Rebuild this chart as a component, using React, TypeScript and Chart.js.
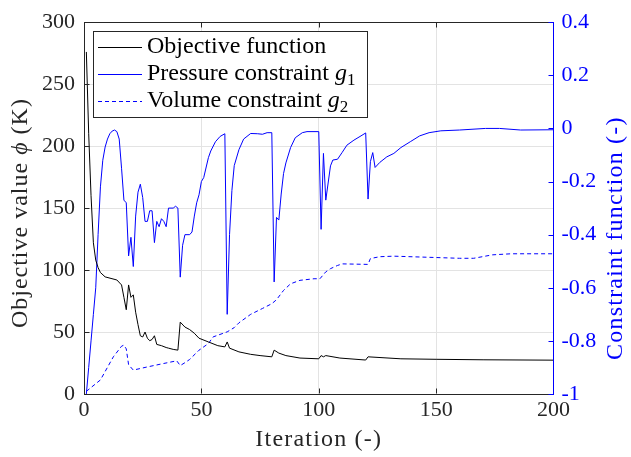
import React, { useEffect, useRef } from "react";
import { Chart, registerables } from "chart.js";

Chart.register(...registerables);

// ---- data ----
const objIter = [1, 2, 3, 4, 5, 6, 7, 9, 14, 16, 17, 18, 19, 20, 21, 22, 23, 24, 25, 26, 27, 28, 29, 30, 31, 33, 35, 36, 38, 40, 41, 43, 45, 47, 49, 53, 57, 60, 61, 62, 66, 71, 75, 80, 81, 83, 86, 92, 100, 101, 102, 103, 109, 120, 121, 135, 150, 170, 200];
const objVal = [276, 210, 160, 122, 108, 102, 98, 94.5, 92, 88, 78, 68, 88, 78, 80, 66, 56, 47, 46, 50, 45, 43, 44, 47, 40, 39, 37.5, 37, 36, 35.4, 58, 54, 52, 49, 45, 42, 39, 38, 42, 37, 34, 32, 31, 30, 35.4, 33, 31, 29, 28.4, 31, 30, 31, 29, 27.4, 30, 28.4, 28, 27.6, 27.3];

const presIter = [1, 2, 3, 4, 5, 6, 7, 8, 9, 10, 11, 12, 13, 14, 15, 16, 17, 18, 19, 20, 21, 22, 23, 24, 25, 26, 27, 28, 29, 30, 31, 32, 33, 34, 35, 36, 38, 39, 40, 41, 42, 43, 45, 46, 47, 48, 49, 50, 51, 53, 54, 56, 58, 60, 61, 62, 63, 64, 66, 68, 71, 74, 76, 78, 80, 81, 82, 83, 84, 85, 86, 88, 90, 93, 95, 100, 101, 102, 103, 105, 106, 108, 110, 112, 115, 118, 120, 121, 122, 123, 124, 126, 129, 132, 135, 139, 143, 147, 152, 160, 171, 177, 186, 200];
const presVal = [-1, -0.9, -0.8, -0.7, -0.6, -0.4, -0.22, -0.12, -0.07, -0.04, -0.02, -0.01, -0.006, -0.012, -0.04, -0.15, -0.27, -0.28, -0.48, -0.41, -0.52, -0.33, -0.24, -0.21, -0.26, -0.35, -0.35, -0.31, -0.31, -0.43, -0.35, -0.37, -0.34, -0.35, -0.37, -0.3, -0.3, -0.293, -0.3, -0.56, -0.44, -0.4, -0.4, -0.39, -0.33, -0.28, -0.25, -0.2, -0.185, -0.11, -0.085, -0.05, -0.03, -0.02, -0.7, -0.4, -0.234, -0.14, -0.08, -0.04, -0.019, -0.02, -0.022, -0.016, -0.016, -0.578, -0.335, -0.345, -0.247, -0.17, -0.13, -0.072, -0.035, -0.016, -0.012, -0.012, -0.38, -0.094, -0.27, -0.141, -0.119, -0.116, -0.09, -0.063, -0.044, -0.028, -0.017, -0.266, -0.125, -0.091, -0.147, -0.128, -0.107, -0.094, -0.072, -0.05, -0.028, -0.016, -0.009, -0.006, 0, 0, -0.006, -0.005];

const volIter = [1, 7, 12.5, 16, 17, 18, 19, 21, 27, 34, 39.5, 41, 43, 45, 49, 53, 55, 61, 64, 66, 71, 76, 80, 82, 85, 88, 92, 98, 100.5, 103, 105, 108, 110, 121, 122, 126, 132, 146, 160, 166, 174, 182, 200];
const volVal = [-0.99, -0.947, -0.86, -0.82, -0.816, -0.83, -0.89, -0.91, -0.898, -0.885, -0.875, -0.893, -0.882, -0.87, -0.835, -0.81, -0.785, -0.766, -0.75, -0.732, -0.7, -0.678, -0.66, -0.645, -0.61, -0.585, -0.572, -0.566, -0.566, -0.54, -0.528, -0.516, -0.51, -0.512, -0.49, -0.483, -0.481, -0.485, -0.489, -0.489, -0.476, -0.472, -0.472];

const xTicks = [0, 50, 100, 150, 200];
const leftTicks = [0, 50, 100, 150, 200, 250, 300];
const rightTicks = [-1, -0.8, -0.6, -0.4, -0.2, 0, 0.2, 0.4];

const legendLabels = ["Objective function", "Pressure constraint ", "Volume constraint "];
const xTitle = "Iteration (-)";
const rightTitle = "Constraint function (-)";

// ---- styles ----
const FONT = "'Liberation Serif', serif";
const AXIS = "#262626";
const BLUE = "#0000ff";
const GRID = "#e3e3e3";

type Run = { t: string; italic?: boolean; sub?: boolean };

function drawRuns(ctx: any, runs: Run[], x: number, y: number, size: number, align: "left" | "center", spacing = 0) {
  const fontFor = (r: Run) => `${r.italic ? "italic " : ""}${r.sub ? Math.round(size * 0.7) : size}px ${FONT}`;
  ctx.letterSpacing = `${spacing}px`;
  let total = 0;
  for (const r of runs) {
    ctx.font = fontFor(r);
    total += ctx.measureText(r.t).width;
  }
  let cx = align === "center" ? x - total / 2 : x;
  ctx.textBaseline = "middle";
  ctx.textAlign = "left";
  for (const r of runs) {
    ctx.font = fontFor(r);
    ctx.fillText(r.t, cx, r.sub ? y + size * 0.28 : y);
    cx += ctx.measureText(r.t).width;
  }
  ctx.letterSpacing = "0px";
}

const decor = {
  id: "decor",
  afterDraw(chart: any) {
    const { ctx, chartArea: a, scales } = chart;
    const L = Math.round(a.left) + 0.5;
    const R = Math.round(a.right) - 0.5;
    const T = Math.round(a.top) + 0.5;
    const B = Math.round(a.bottom) - 0.5;
    ctx.save();
    ctx.lineWidth = 1;
    const seg = (x1: number, y1: number, x2: number, y2: number, c: string) => {
      ctx.strokeStyle = c;
      ctx.beginPath();
      ctx.moveTo(x1, y1);
      ctx.lineTo(x2, y2);
      ctx.stroke();
    };
    // top border
    seg(L - 0.5, T, R, T, AXIS);
    // x ticks (inward, bottom and top)
    for (const v of xTicks) {
      if (v === 200) continue;
      const px = Math.round(scales.x.getPixelForValue(v)) + 0.5;
      seg(px, B, px, B - 5, AXIS);
      seg(px, T, px, T + 5, AXIS);
    }
    for (const v of leftTicks) {
      const py = Math.round(scales.y.getPixelForValue(v)) + 0.5;
      seg(L, py, L + 5, py, AXIS);
    }
    for (const v of rightTicks) {
      const py = Math.round(scales.y2.getPixelForValue(v)) + 0.5;
      seg(R, py, R - 5, py, BLUE);
    }
    seg(R, T - 0.5, R, B + 0.5, BLUE);

    // axis titles
    const midY = (a.top + a.bottom) / 2;
    ctx.fillStyle = AXIS;
    ctx.save();
    ctx.translate(21, midY + 5);
    ctx.rotate(-Math.PI / 2);
    drawRuns(ctx, [{ t: "Objective value " }, { t: "ϕ", italic: true }, { t: " (K)" }], 0, 0, 24, "center", 1);
    ctx.restore();

    ctx.fillStyle = BLUE;
    ctx.save();
    ctx.translate(616, midY + 30);
    ctx.rotate(-Math.PI / 2);
    drawRuns(ctx, [{ t: rightTitle }], 0, 0, 24, "center", 1.2);
    ctx.restore();

    ctx.fillStyle = AXIS;
    drawRuns(ctx, [{ t: xTitle }], (a.left + a.right) / 2, 440, 24, "center", 1.2);

    // legend
    const bx = 93.5, by = 31.5, bw = 274, bh = 86;
    ctx.fillStyle = "#ffffff";
    ctx.fillRect(bx, by, bw, bh);
    ctx.strokeStyle = AXIS;
    ctx.strokeRect(bx, by, bw, bh);
    const rows = [47, 74, 101];
    const colors = ["#000000", BLUE, BLUE];
    const dashes = [[], [], [4, 3]];
    for (let i = 0; i < 3; i++) {
      ctx.strokeStyle = colors[i];
      ctx.setLineDash(dashes[i]);
      ctx.beginPath();
      ctx.moveTo(98, rows[i] + 0.5);
      ctx.lineTo(142, rows[i] + 0.5);
      ctx.stroke();
      ctx.setLineDash([]);
      ctx.fillStyle = "#000000";
      const runs: Run[] = [{ t: legendLabels[i] }];
      if (i > 0) {
        runs.push({ t: "g", italic: true });
        runs.push({ t: String(i), sub: true });
      }
      drawRuns(ctx, runs, 147, rows[i], 24, "left");
    }
    ctx.restore();
  },
};

export default function App() {
  const ref = useRef<HTMLCanvasElement | null>(null);
  useEffect(() => {
    if (!ref.current) return;
    const tickFont = { family: FONT, size: 22 };
    const chart = new Chart(ref.current, {
      type: "line",
      data: {
        datasets: [
          {
            label: "Objective function",
            data: objIter.map((x, i) => ({ x, y: objVal[i] })),
            borderColor: "#000000",
            borderWidth: 1,
            yAxisID: "y",
            pointRadius: 0,
          },
          {
            label: "Pressure constraint g1",
            data: presIter.map((x, i) => ({ x, y: presVal[i] })),
            borderColor: BLUE,
            borderWidth: 1,
            yAxisID: "y2",
            pointRadius: 0,
          },
          {
            label: "Volume constraint g2",
            data: volIter.map((x, i) => ({ x, y: volVal[i] })),
            borderColor: BLUE,
            borderWidth: 1,
            borderDash: [4, 3],
            yAxisID: "y2",
            pointRadius: 0,
          },
        ],
      },
      options: {
        responsive: false,
        animation: false,
        maintainAspectRatio: false,
        layout: { padding: { top: 21, left: 0, right: 0, bottom: 0 } },
        plugins: { legend: { display: false }, tooltip: { enabled: false } },
        elements: { line: { tension: 0 } },
        scales: {
          x: {
            type: "linear",
            min: 0,
            max: 200,
            afterBuildTicks: (s: any) => {
              s.ticks = xTicks.map((v) => ({ value: v }));
            },
            ticks: { font: tickFont, color: AXIS, padding: 3, maxRotation: 0, autoSkip: false },
            grid: { color: GRID, drawTicks: false },
            border: { color: AXIS },
            afterFit: (s: any) => {
              s.height = 63;
            },
          },
          y: {
            position: "left",
            min: 0,
            max: 300,
            afterBuildTicks: (s: any) => {
              s.ticks = leftTicks.map((v) => ({ value: v }));
            },
            ticks: { font: tickFont, color: AXIS, padding: 9, autoSkip: false },
            grid: { color: GRID, drawTicks: false },
            border: { color: AXIS },
            afterFit: (s: any) => {
              s.width = 84;
            },
          },
          y2: {
            position: "right",
            min: -1,
            max: 0.4,
            afterBuildTicks: (s: any) => {
              s.ticks = rightTicks.map((v) => ({ value: v }));
            },
            ticks: {
              font: tickFont,
              color: BLUE,
              padding: 8,
              autoSkip: false,
              callback: (v: any) => String(Math.round(Number(v) * 10) / 10),
            },
            grid: { drawOnChartArea: false, drawTicks: false },
            border: { color: BLUE },
            afterFit: (s: any) => {
              s.width = 77.5;
            },
          },
        },
      },
      plugins: [decor],
    });
    return () => chart.destroy();
  }, []);
  return (
    <div style={{ position: "absolute", left: 0, top: 0, width: 631, height: 457, background: "#fff" }}>
      <canvas ref={ref} width={631} height={457} />
    </div>
  );
}
